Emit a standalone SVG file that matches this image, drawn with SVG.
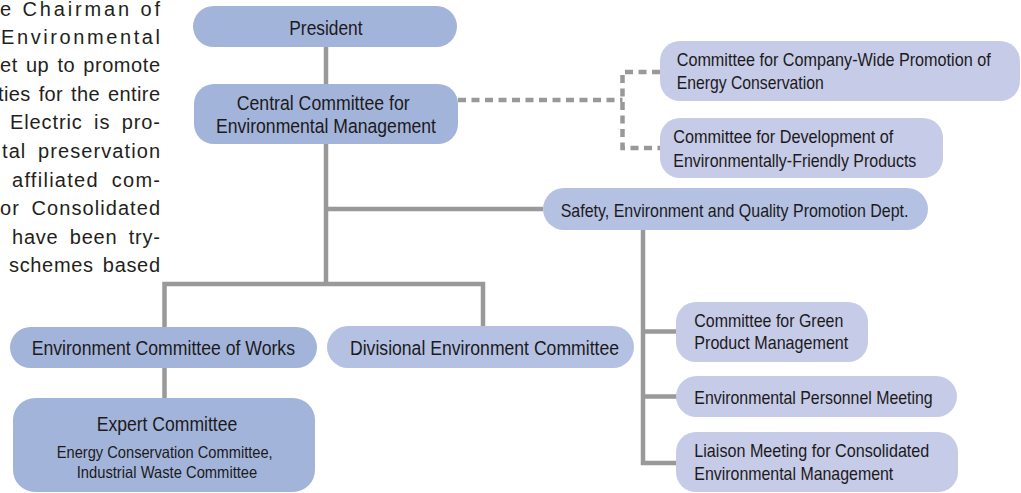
<svg xmlns="http://www.w3.org/2000/svg" width="1021" height="493" viewBox="0 0 1021 493">
  <style>
    .para { font-family: "Liberation Sans", Arial, sans-serif; font-size: 20px; fill: #231f20; }
    .lbl { font-family: "Liberation Sans Narrow", "Liberation Sans", Arial, sans-serif; fill: #1c1a1b; }
    .big { font-size: 20.5px; }
    .mid { font-size: 18.5px; }
    .sm { font-size: 16.5px; }
    .dark { fill: #a3b4da; }
    .medium { fill: #b4c1e3; }
    .light { fill: #c6cbe7; }
    .link { fill: none; stroke: #999999; stroke-width: 4.5; stroke-linejoin: miter; stroke-linecap: butt; }
    .dash { stroke-dasharray: 8 5.5; }
  </style>

  <!-- clipped column of justified body text at the left -->
  <g id="body-text">
    <text class="para" x="0" y="16" textLength="160" lengthAdjust="spacing">e Chairman of</text>
    <text class="para" x="1" y="44" textLength="159" lengthAdjust="spacing">Environmental</text>
    <text class="para" x="0" y="72" word-spacing="2" textLength="160" lengthAdjust="spacing">et up to promote</text>
    <text class="para" x="-2" y="101" word-spacing="2" textLength="162" lengthAdjust="spacing">ties for the entire</text>
    <text class="para" x="10" y="129" word-spacing="5" textLength="150" lengthAdjust="spacing">Electric is pro-</text>
    <text class="para" x="2" y="158" word-spacing="5" textLength="158" lengthAdjust="spacing">tal preservation</text>
    <text class="para" x="12" y="187" word-spacing="6" textLength="148" lengthAdjust="spacing">affiliated com-</text>
    <text class="para" x="0" y="215" word-spacing="5" textLength="160" lengthAdjust="spacing">or Consolidated</text>
    <text class="para" x="12" y="244" word-spacing="5" textLength="148" lengthAdjust="spacing">have been try-</text>
    <text class="para" x="9" y="272" word-spacing="3" textLength="151" lengthAdjust="spacing">schemes based</text>
  </g>

  <!-- connectors -->
  <g id="connectors">
    <path class="link" d="M326 47 V84"/>
    <path class="link" d="M326 144 V284"/>
    <path class="link" d="M326 209 H543"/>
    <path class="link" d="M164.5 327 V284 H483 V326"/>
    <path class="link" d="M164.5 368 V398"/>
    <path class="link" d="M643 230 V463 H677"/>
    <path class="link" d="M643 331.5 H677"/>
    <path class="link" d="M643 396.5 H677"/>
    <path class="link dash" d="M458 100 H622.5"/>
    <path class="link dash" d="M660 72 H622.5 V148 H660"/>
  </g>

  <g id="president">
    <rect class="dark" x="193" y="6" width="264" height="41" rx="20.5"/>
    <text class="lbl big" x="289.3" y="35" textLength="73.3" lengthAdjust="spacingAndGlyphs">President</text>
  </g>

  <g id="central-committee">
    <rect class="dark" x="194" y="84" width="264" height="60" rx="20"/>
    <text class="lbl big" x="236.7" y="110" textLength="173" lengthAdjust="spacingAndGlyphs">Central Committee for</text>
    <text class="lbl big" x="216" y="133.3" textLength="220" lengthAdjust="spacingAndGlyphs">Environmental Management</text>
  </g>

  <g id="energy-conservation-committee">
    <rect class="light" x="660" y="41" width="360" height="60" rx="20"/>
    <text class="lbl mid" x="676.7" y="66" textLength="314" lengthAdjust="spacingAndGlyphs">Committee for Company-Wide Promotion of</text>
    <text class="lbl mid" x="676.7" y="89.3" textLength="147" lengthAdjust="spacingAndGlyphs">Energy Conservation</text>
  </g>

  <g id="product-development-committee">
    <rect class="light" x="660" y="118" width="283" height="60" rx="20"/>
    <text class="lbl mid" x="673.3" y="142.7" textLength="220" lengthAdjust="spacingAndGlyphs">Committee for Development of</text>
    <text class="lbl mid" x="673.3" y="166.7" textLength="243" lengthAdjust="spacingAndGlyphs">Environmentally-Friendly Products</text>
  </g>

  <g id="safety-dept">
    <rect class="medium" x="543" y="188" width="385" height="42" rx="21"/>
    <text class="lbl mid" x="560.7" y="217.3" textLength="347.7" lengthAdjust="spacingAndGlyphs">Safety, Environment and Quality Promotion Dept.</text>
  </g>

  <g id="works-committee">
    <rect class="dark" x="10" y="327" width="307" height="41" rx="20.5"/>
    <text class="lbl big" x="31.7" y="355" textLength="263.3" lengthAdjust="spacingAndGlyphs">Environment Committee of Works</text>
  </g>

  <g id="divisional-committee">
    <rect class="medium" x="327" y="326" width="307" height="42" rx="21"/>
    <text class="lbl big" x="350" y="355" textLength="269" lengthAdjust="spacingAndGlyphs">Divisional Environment Committee</text>
  </g>

  <g id="expert-committee">
    <rect class="dark" x="13" y="398" width="302" height="94" rx="22"/>
    <text class="lbl big" x="96.7" y="430.7" textLength="140.6" lengthAdjust="spacingAndGlyphs">Expert Committee</text>
    <text class="lbl sm" x="56.7" y="458.3" textLength="216" lengthAdjust="spacingAndGlyphs">Energy Conservation Committee,</text>
    <text class="lbl sm" x="76.7" y="478.3" textLength="180.6" lengthAdjust="spacingAndGlyphs">Industrial Waste Committee</text>
  </g>

  <g id="green-product-committee">
    <rect class="light" x="676" y="302" width="192" height="60" rx="20"/>
    <text class="lbl mid" x="694.3" y="326.7" textLength="149" lengthAdjust="spacingAndGlyphs">Committee for Green</text>
    <text class="lbl mid" x="694.3" y="349.3" textLength="154" lengthAdjust="spacingAndGlyphs">Product Management</text>
  </g>

  <g id="personnel-meeting">
    <rect class="light" x="676" y="376" width="281" height="41" rx="20.5"/>
    <text class="lbl mid" x="694.3" y="404.3" textLength="238.4" lengthAdjust="spacingAndGlyphs">Environmental Personnel Meeting</text>
  </g>

  <g id="liaison-meeting">
    <rect class="light" x="676" y="432" width="282" height="60" rx="20"/>
    <text class="lbl mid" x="694.3" y="456.7" textLength="235" lengthAdjust="spacingAndGlyphs">Liaison Meeting for Consolidated</text>
    <text class="lbl mid" x="694.3" y="480" textLength="199" lengthAdjust="spacingAndGlyphs">Environmental Management</text>
  </g>
</svg>
